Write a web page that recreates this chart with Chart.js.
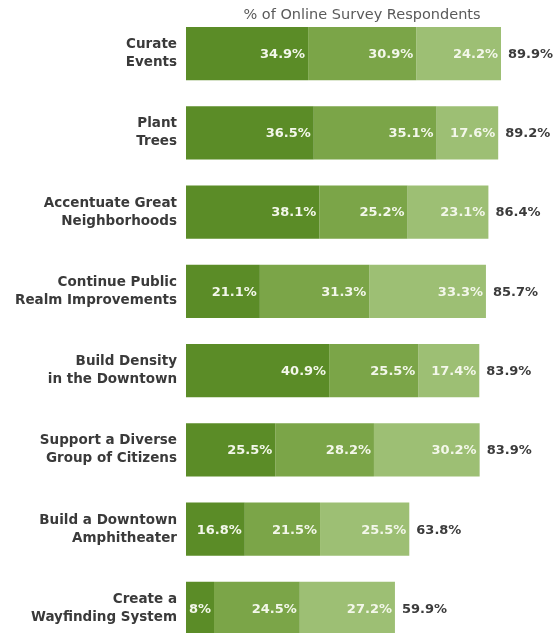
<!DOCTYPE html>
<html>
<head>
<meta charset="utf-8">
<script src="https://cdn.jsdelivr.net/npm/chart.js@4/dist/chart.umd.min.js"></script>
<style>
  html, body { margin:0; padding:0; background:#fff; overflow:hidden; }
  #wrap { position:absolute; left:0; top:-5px; width:557px; height:672px; }
</style>
</head>
<body>
<div id="wrap"><canvas id="chart"></canvas></div>
<script>
// ---- data ----
const categories = [
  ['Curate', 'Events'],
  ['Plant', 'Trees'],
  ['Accentuate Great', 'Neighborhoods'],
  ['Continue Public', 'Realm Improvements'],
  ['Build Density', 'in the Downtown'],
  ['Support a Diverse', 'Group of Citizens'],
  ['Build a Downtown', 'Amphitheater'],
  ['Create a', 'Wayfinding System']
];
const seg1 = [34.9, 36.5, 38.1, 21.1, 40.9, 25.5, 16.8, 8];
const seg2 = [30.9, 35.1, 25.2, 31.3, 25.5, 28.2, 21.5, 24.5];
const seg3 = [24.2, 17.6, 23.1, 33.3, 17.4, 30.2, 25.5, 27.2];
const totals = [89.9, 89.2, 86.4, 85.7, 83.9, 83.9, 63.8, 59.9];
const titleText = '% of Online Survey Respondents';

const FONT = 'DejaVu Sans';

// labels inside segments + totals + top title
const labelPlugin = {
  id:'labels',
  afterDatasetsDraw(chart){
    const ctx = chart.ctx;
    ctx.save();
    ctx.font = 'bold 13px ' + FONT;
    ctx.textBaseline = 'middle';
    chart.data.datasets.forEach((ds, di) => {
      const meta = chart.getDatasetMeta(di);
      meta.data.forEach((bar, i) => {
        ctx.fillStyle = '#f3f7ea';
        ctx.textAlign = 'right';
        ctx.fillText(ds.data[i] + '%', bar.x - 3, bar.y + 1);
        if(di === chart.data.datasets.length - 1){
          ctx.fillStyle = '#3b3b3b';
          ctx.textAlign = 'left';
          ctx.fillText(totals[i] + '%', bar.x + 7, bar.y + 1);
        }
      });
    });
    ctx.font = '14.5px ' + FONT;
    ctx.fillStyle = '#5a5a5a';
    ctx.textAlign = 'center';
    ctx.fillText(titleText, 362, 20);
    ctx.restore();
  }
};

new Chart(document.getElementById('chart'), {
  type:'bar',
  data:{
    labels: categories,
    datasets:[
      {data: seg1, backgroundColor:'#5b8c27'},
      {data: seg2, backgroundColor:'#7ba548'},
      {data: seg3, backgroundColor:'#9dbf74'}
    ]
  },
  options:{
    indexAxis:'y',
    responsive:true, maintainAspectRatio:false, animation:false,
    layout:{ padding:{ top:2, bottom:0, left:0, right:21 } },
    datasets:{ bar:{ categoryPercentage:1, barPercentage:0.67, borderWidth:0 } },
    plugins:{ legend:{ display:false }, tooltip:{ enabled:false } },
    scales:{
      x:{ stacked:true, min:0, max:100, display:false },
      y:{
        stacked:true,
        grid:{ display:false }, border:{ display:false },
        ticks:{ color:'#3a3a3a', padding:1, font:{ family:FONT, size:13.5, weight:'bold', lineHeight:1.33 } },
        afterFit(s){ s.width = 186; }
      }
    }
  },
  plugins:[labelPlugin]
});
</script>
</body>
</html>
